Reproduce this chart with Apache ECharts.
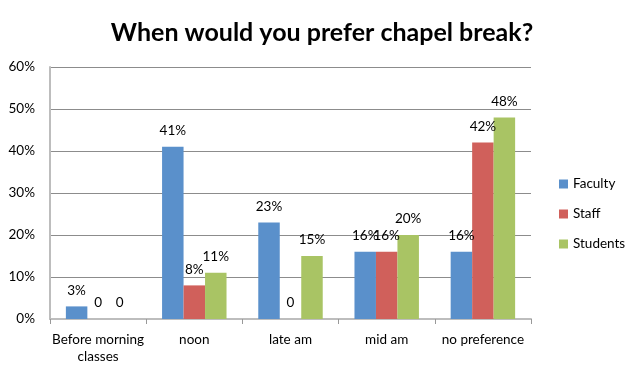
<!DOCTYPE html>
<html>
<head>
<meta charset="utf-8">
<script src="https://cdn.jsdelivr.net/npm/echarts@6/dist/echarts.min.js"></script>
<style>html,body{margin:0;padding:0;background:#fff;}#c{width:644px;height:373px;}</style>
</head>
<body>
<div id="c"></div>
<script>
var categories = ['Before morning\nclasses', 'noon', 'late am', 'mid am', 'no preference'];
var faculty = [3, 41, 23, 16, 16];
var staff = [0, 8, 0, 16, 42];
var students = [0, 11, 15, 20, 48];
var yTicks = [0, 10, 20, 30, 40, 50, 60];

var FONT = 'Lato, "Open Sans", sans-serif';
function lbl(p) { return p.value === 0 ? '0' : p.value + '%'; }
function mk(name, data, color) {
  return {
    name: name, type: 'bar', data: data,
    barGap: '0%', barCategoryGap: '33%',
    itemStyle: { color: color },
    label: { show: true, position: 'top', distance: 9, formatter: lbl,
      fontFamily: FONT, fontSize: 13.5, color: '#000' }
  };
}
var chart = echarts.init(document.getElementById('c'), null, { renderer: 'canvas' });
chart.setOption({
  animation: false,
  title: { text: 'When would you prefer chapel break?', left: 'center', top: 15,
    textStyle: { fontFamily: FONT, fontWeight: 'bold', fontSize: 25, color: '#000' } },
  grid: { left: 50, right: 113, top: 67, bottom: 54, containLabel: false },
  legend: { orient: 'vertical', left: 554, top: 172, itemWidth: 9, itemHeight: 9, itemGap: 16,
    icon: 'rect', textStyle: { fontFamily: FONT, fontSize: 13.5, color: '#000', lineHeight: 14 },
    data: ['Faculty', 'Staff', 'Students'] },
  xAxis: { type: 'category', data: categories,
    axisLine: { lineStyle: { color: '#BDBDBD', width: 2 } },
    axisTick: { show: true, length: 5, alignWithLabel: false, lineStyle: { color: '#999', width: 1 } },
    axisLabel: { fontFamily: FONT, fontSize: 13.5, color: '#000', margin: 12, lineHeight: 17, interval: 0 } },
  yAxis: { type: 'value', min: yTicks[0], max: yTicks[yTicks.length - 1], interval: 10,
    axisLine: { show: true, lineStyle: { color: '#BDBDBD', width: 2 } },
    axisTick: { show: false },
    splitLine: { lineStyle: { color: '#8C8C8C', width: 1 } },
    axisLabel: { fontFamily: FONT, fontSize: 13.5, color: '#000', margin: 15, formatter: '{value}%' } },
  series: [
    mk('Faculty', faculty, '#5A90CB'),
    mk('Staff', staff, '#D0605B'),
    mk('Students', students, '#A9C464')
  ]
});
</script>
</body>
</html>
